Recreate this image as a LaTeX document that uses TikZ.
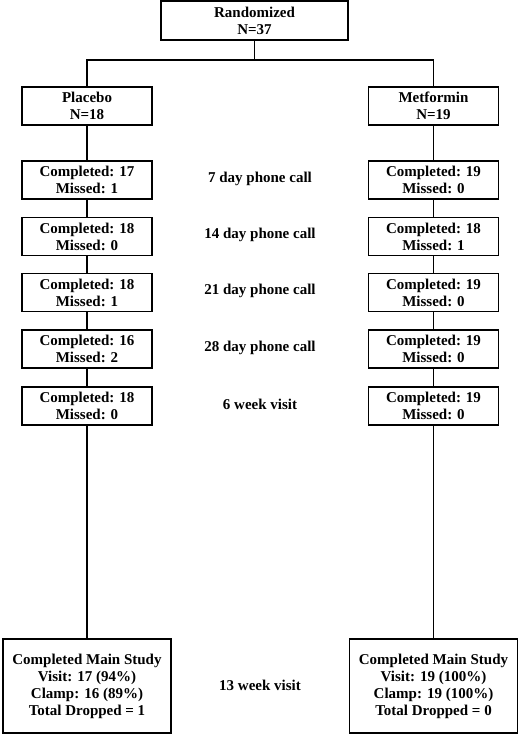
\documentclass[tikz,border=0pt]{standalone}
\usepackage{fontspec}
\setmainfont{Liberation Serif}
\usepackage{tikz}

\tikzset{
    flowbox/.style={draw, line width=1.4pt, align=center, inner sep=0pt,
        minimum width=130pt, minimum height=38pt,
        font=\fontsize{15}{17}\selectfont\bfseries},
    endbox/.style={flowbox, minimum width=168pt, minimum height=94pt},
    visitlabel/.style={align=center, font=\fontsize{15}{17}\selectfont\bfseries},
    link/.style={line width=1.4pt}
}

\begin{document}
\begin{tikzpicture}[x=1pt,y=1pt]

    % Fix the page to the reference size
    \useasboundingbox (0,0) rectangle (520,-735);

    % Top box
    \node[flowbox, minimum width=187pt, minimum height=39pt] (rand) at (254.5,-20.5) {Randomized\\N=37};
    \coordinate (split) at (254.5,-60);

    % The two arms
    \node[flowbox] (plac) at (87,-106) {Placebo\\N=18};
    \node[flowbox] (metf) at (433.5,-106) {Metformin\\N=19};

    % Placebo follow-up
    \node[flowbox] (p7) at (87,-180) {Completed: 17\\Missed: 1};
    \node[flowbox] (p14) at (87,-236.5) {Completed: 18\\Missed: 0};
    \node[flowbox] (p21) at (87,-292.5) {Completed: 18\\Missed: 1};
    \node[flowbox] (p28) at (87,-349) {Completed: 16\\Missed: 2};
    \node[flowbox] (p6w) at (87,-406) {Completed: 18\\Missed: 0};
    \node[endbox] (pend) at (87,-686) {Completed Main Study\\Visit: 17 (94\%)\\Clamp: 16 (89\%)\\Total Dropped = 1};

    % Metformin follow-up
    \node[flowbox] (m7) at (433.5,-180) {Completed: 19\\Missed: 0};
    \node[flowbox] (m14) at (433.5,-236.5) {Completed: 18\\Missed: 1};
    \node[flowbox] (m21) at (433.5,-292.5) {Completed: 19\\Missed: 0};
    \node[flowbox] (m28) at (433.5,-349) {Completed: 19\\Missed: 0};
    \node[flowbox] (m6w) at (433.5,-406) {Completed: 19\\Missed: 0};
    \node[endbox] (mend) at (433.5,-686) {Completed Main Study\\Visit: 19 (100\%)\\Clamp: 19 (100\%)\\Total Dropped = 0};

    % Visit labels in the middle
    \node[visitlabel] (l7) at (260,-179) {7 day phone call};
    \node[visitlabel] (l14) at (260,-235) {14 day phone call};
    \node[visitlabel] (l21) at (260,-291) {21 day phone call};
    \node[visitlabel] (l28) at (260,-348) {28 day phone call};
    \node[visitlabel] (l6w) at (260,-404) {6 week visit};
    \node[visitlabel] (l13w) at (260,-685) {13 week visit};

    % Connectors
    \draw[link] (rand.south) -- (split) -| (plac.north);
    \draw[link] (split) -| (metf.north);
    \draw[link] (plac) -- (p7) -- (p14) -- (p21) -- (p28) -- (p6w) -- (pend);
    \draw[link] (metf) -- (m7) -- (m14) -- (m21) -- (m28) -- (m6w) -- (mend);

\end{tikzpicture}
\end{document}
